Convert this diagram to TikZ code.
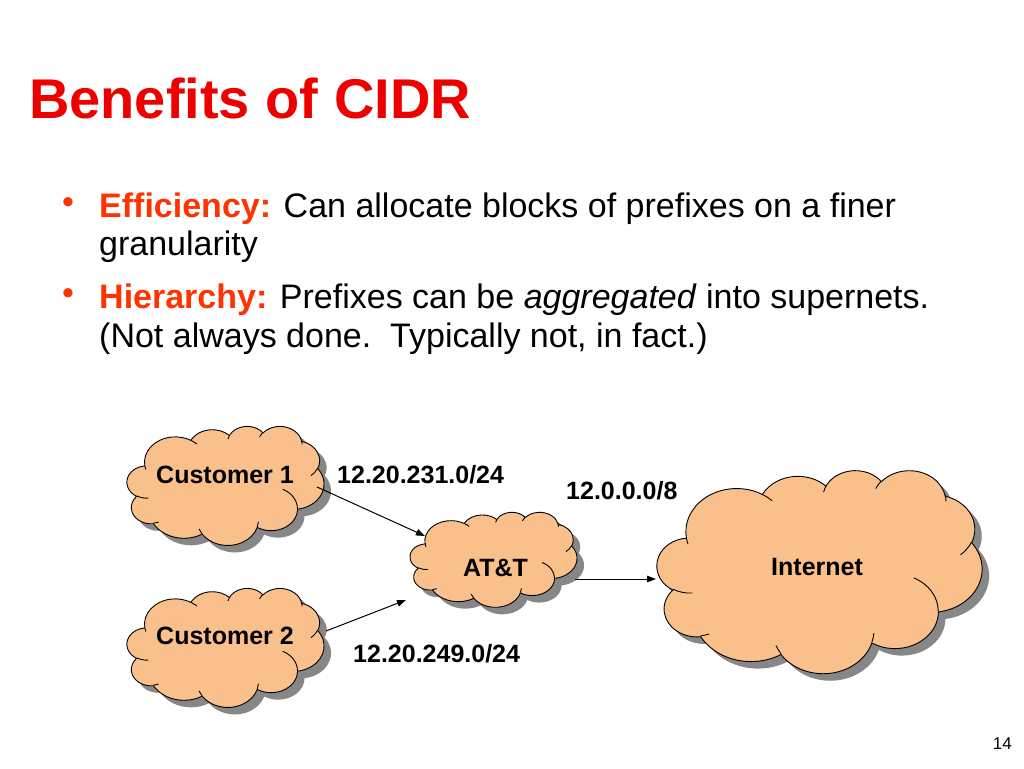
\documentclass[tikz,border=0pt]{standalone}
\usepackage{fontspec}
\setmainfont{Liberation Sans}
\usetikzlibrary{arrows.meta}
\definecolor{titlered}{RGB}{238,0,0}
\definecolor{labelred}{RGB}{255,51,0}
\definecolor{cloudfill}{RGB}{250,192,140}
\definecolor{shadowgray}{RGB}{135,135,135}
\tikzset{
  lbl/.style={font=\fontsize{25}{30}\selectfont\bfseries, inner sep=0pt, anchor=base west},
  body/.style={font=\fontsize{34}{40}\selectfont, inner sep=0pt, anchor=base west},
  bul/.style={font=\fontsize{34}{40}\selectfont, text=labelred, inner sep=0pt},
  arr/.style={-{Triangle[length=9pt,width=6.5pt]}, line width=1pt},
  cloudline/.style={draw=black, line width=0.9pt}
}
% arc of the Office cloud: radii, visual start angle, visual sweep (degrees)
\newcommand\cloudcalc[4]{%
  \pgfmathsetmacro\ctaA{atan2((#1)*sin(#3),(#2)*cos(#3))}%
  \pgfmathsetmacro\ctaB{atan2((#1)*sin((#3)+(#4)),(#2)*cos((#3)+(#4)))}%
  \pgfmathsetmacro\ctdD{\ctaB-\ctaA-360*round((\ctaB-\ctaA-(#4))/360)}%
  \global\let\cta\ctaA \global\let\ctd\ctdD}
\newcommand\carc[4]{\pgfextra{\cloudcalc{#1}{#2}{#3}{#4}} arc[x radius=#1, y radius=#2, start angle=\cta, delta angle=\ctd]}
\def\cloudouter{(39.00,143.70)
 \carc{67.53}{91.90}{-190.4875}{123.7805}
 \carc{53.33}{72.67}{-144.1024}{89.9452}
 \carc{43.65}{59.45}{-145.8079}{99.7230}
 \carc{48.57}{65.95}{-130.9861}{117.2417}
 \carc{53.33}{72.73}{-78.7089}{109.0269}
 \carc{67.75}{92.20}{-46.2673}{130.2690}
 \carc{57.85}{78.67}{0.6250}{114.0333}
 \carc{67.52}{92.15}{22.4516}{115.1726}
 \carc{77.20}{105.43}{66.2426}{75.7110}
 \carc{43.60}{59.18}{-274.9421}{146.7356}
 \carc{43.45}{59.45}{-246.8285}{152.5189}
 -- cycle}
\def\cloudinner{(46.93,261.77) \carc{43.45}{59.45}{86.7420}{26.4295}
 (69.28,348.99) \carc{43.60}{59.18}{73.6105}{11.4475}
 (164.78,390.90) \carc{67.52}{92.15}{137.6242}{14.0811}
 (288.27,347.51) \carc{67.52}{92.15}{6.4533}{15.9984}
 (341.29,229.54) \carc{57.85}{78.67}{-70.2924}{70.9174}
 (417.98,153.54) \carc{53.33}{72.73}{30.3180}{27.7515}
 (383.24,54.26) \carc{48.57}{65.95}{-13.7443}{14.8589}
 (290.78,39.52) \carc{48.57}{65.95}{-149.1815}{18.1954}
 (221.41,47.20) \carc{43.65}{59.45}{-163.4943}{17.6864}
 (140.00,51.92) \carc{67.53}{91.90}{-66.7070}{12.3194}
 (41.27,157.89) \carc{67.53}{91.90}{157.6544}{11.8582}}
% #1 x0, #2 y0, #3 width, #4 height (pixels)
\newcommand\drawcloud[4]{%
  \begin{scope}[shift={(#1+7,#2+7)}, xscale=#3/432, yscale=#4/432]
    \fill[shadowgray] \cloudouter;
  \end{scope}
  \begin{scope}[shift={(#1,#2)}, xscale=#3/432, yscale=#4/432]
    \path[cloudline, fill=cloudfill] \cloudouter;
    \path[cloudline] \cloudinner;
  \end{scope}}
\begin{document}
\begin{tikzpicture}[x=1pt,y=-1pt]
\useasboundingbox (0,0) rectangle (1024,768);
\fill[white] (0,0) rectangle (1024,768);

\node[anchor=base west, font=\fontsize{56}{60}\selectfont\bfseries, text=titlered, inner sep=0pt] (title) at (29,118) {Benefits of CIDR};

\node[bul] (d1) at (68,206) {•};
\node[body] (l1) at (99,217) {\textcolor{labelred}{\bfseries Efficiency:} Can allocate blocks of prefixes on a finer};
\node[body] (l2) at (99,255) {granularity};
\node[bul] (d2) at (68,297) {•};
\node[body] (l3) at (99,308) {\textcolor{labelred}{\bfseries Hierarchy:} Prefixes can be \textit{aggregated} into supernets.};
\node[body] (l4) at (99,347) {(Not always done.\ \ Typically not, in fact.)};

\drawcloud{127}{426}{197}{119}
\drawcloud{127}{588}{197}{119}
\drawcloud{410}{512}{167}{95}
\drawcloud{657}{470}{325}{203}

\node[lbl] (t1) at (156,483) {Customer 1};
\node[lbl] (t2) at (156,644) {Customer 2};
\node[lbl] (t3) at (463,576) {AT\&T};
\node[lbl] (t4) at (771,575) {Internet};

\node[lbl] (p1) at (337,483) {12.20.231.0/24};
\node[lbl] (p2) at (566,499) {12.0.0.0/8};
\node[lbl] (p3) at (353,662) {12.20.249.0/24};

\coordinate (c1out) at (317,487);
\coordinate (attin1) at (425,536);
\coordinate (c2out) at (326,631);
\coordinate (attin2) at (406,600);
\coordinate (attout) at (575,579);
\coordinate (inetin) at (656,579);
\draw[arr] (c1out) -- (attin1);
\draw[arr] (c2out) -- (attin2);
\draw[arr] (attout) -- (inetin);

\node[anchor=base east, font=\fontsize{17}{20}\selectfont, inner sep=0pt] (pg) at (1012,749) {14};
\end{tikzpicture}
\end{document}
